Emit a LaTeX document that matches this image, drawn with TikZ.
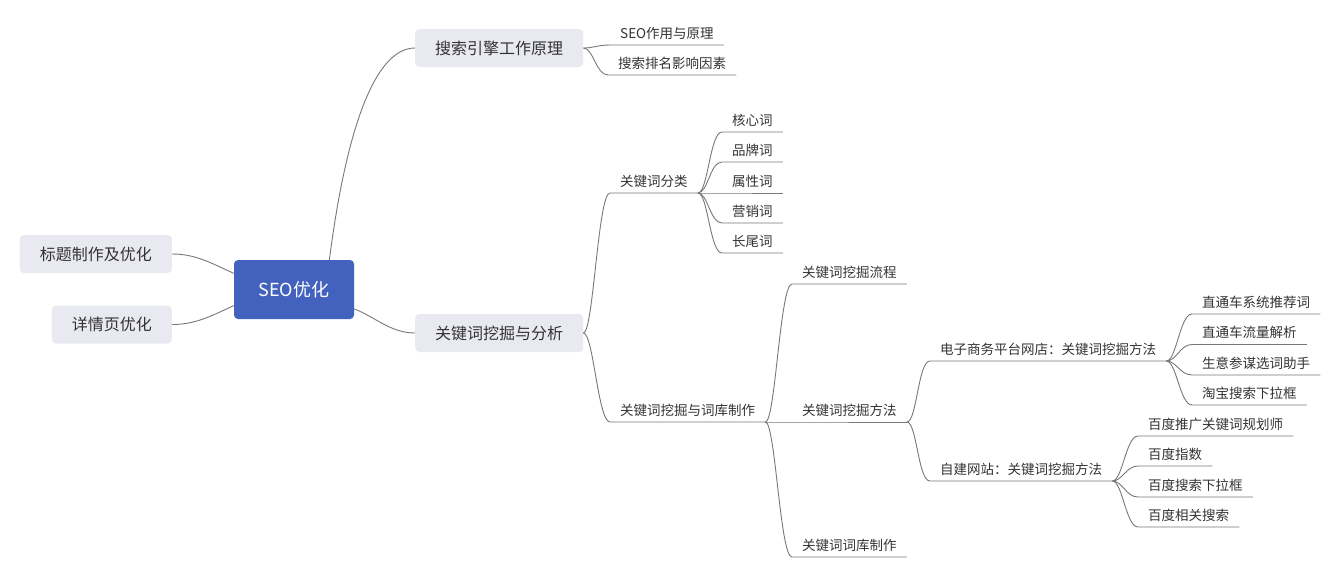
\documentclass[tikz,border=0pt]{standalone}
\usepackage{fontspec}
\setmainfont{Noto Sans CJK SC}
\definecolor{seoblue}{RGB}{67,98,190}
\definecolor{topicgray}{RGB}{233,234,241}
\definecolor{linkgray}{RGB}{120,120,120}
\definecolor{ink}{RGB}{51,51,51}

\begin{document}
\begin{tikzpicture}[
  x=1pt, y=-1pt,
  central/.style={fill=seoblue, rounded corners=4pt, text=white, minimum width=120pt, minimum height=59pt, font=\fontsize{18}{20}\selectfont},
  topic/.style={fill=topicgray, rounded corners=4pt, text=ink, inner xsep=20pt, minimum height=38pt, font=\fontsize{16}{18}\selectfont},
  leaf/.style={anchor=south west, text=ink, inner xsep=10pt, inner ysep=4pt, text height=10.5pt, text depth=2.5pt, font=\fontsize{13.5}{15}\selectfont},
  link/.style={draw=linkgray, line width=0.9pt},
  branch/.style={to path={.. controls +(10,0) and +(-12,0) .. (\tikztotarget)}},
]
\useasboundingbox (0,0) rectangle (1341,579);
% centre and the four topics round it
\node[central] (seo) at (294,289.5) {SEO优化};
\node[topic, anchor=east] (title) at (172,254) {标题制作及优化};
\node[topic, anchor=east] (detail) at (172,324.5) {详情页优化};
\node[topic, anchor=west] (engine) at (415,48) {搜索引擎工作原理};
\node[topic, anchor=west] (analysis) at (415,333) {关键词挖掘与分析};
% search engine
\node[leaf] (role) at (610,45) {SEO作用与原理};
\node[leaf] (rank) at (608,75) {搜索排名影响因素};
% keyword classes
\node[leaf] (kind) at (610,193) {关键词分类};
\node[leaf] (core) at (722,132) {核心词};
\node[leaf] (brand) at (722,162) {品牌词};
\node[leaf] (attr) at (722,193) {属性词};
\node[leaf] (promo) at (722,223) {营销词};
\node[leaf] (tail) at (722,253) {长尾词};
% keyword mining
\node[leaf] (mining) at (610,422) {关键词挖掘与词库制作};
\node[leaf] (flow) at (792,284) {关键词挖掘流程};
\node[leaf] (method) at (792,422) {关键词挖掘方法};
\node[leaf] (wordlib) at (792,557) {关键词词库制作};
\node[leaf] (shop) at (930,361) {电子商务平台网店：关键词挖掘方法};
\node[leaf] (site) at (930,481) {自建网站：关键词挖掘方法};
\node[leaf] (ztcword) at (1192,314) {直通车系统推荐词};
\node[leaf] (ztcflow) at (1192,344.5) {直通车流量解析};
\node[leaf] (sycm) at (1192,375) {生意参谋选词助手};
\node[leaf] (taobao) at (1192,405) {淘宝搜索下拉框};
\node[leaf] (bdplan) at (1138,436) {百度推广关键词规划师};
\node[leaf] (bdindex) at (1138,466) {百度指数};
\node[leaf] (bddrop) at (1138,497) {百度搜索下拉框};
\node[leaf] (bdrel) at (1138,527) {百度相关搜索};
% centre -> topics
\draw[link] (seo.165) .. controls +(-24,-11) and +(23,0) .. (title.east);
\draw[link] (seo.195) .. controls +(-24,11) and +(23,0) .. (detail.east);
\draw[link] (seo.40) .. controls +(14,-110) and +(-45,0) .. (engine.west);
\draw[link] (seo.-18) .. controls +(20,7) and +(-25,0) .. (analysis.west);
% topics -> leaves, each line runs on under its text
\draw[link] (engine.east) to[branch] (role.south west) -- (role.south east);
\draw[link] (engine.east) to[branch] (rank.south west) -- (rank.south east);
\draw[link] (analysis.east) to[branch] (kind.south west) -- (kind.south east);
\draw[link] (analysis.east) to[branch] (mining.south west) -- (mining.south east);
\draw[link] (kind.south east) to[branch] (core.south west) -- (core.south east);
\draw[link] (kind.south east) to[branch] (brand.south west) -- (brand.south east);
\draw[link] (kind.south east) to[branch] (attr.south west) -- (attr.south east);
\draw[link] (kind.south east) to[branch] (promo.south west) -- (promo.south east);
\draw[link] (kind.south east) to[branch] (tail.south west) -- (tail.south east);
\draw[link] (mining.south east) to[branch] (flow.south west) -- (flow.south east);
\draw[link] (mining.south east) to[branch] (method.south west) -- (method.south east);
\draw[link] (mining.south east) to[branch] (wordlib.south west) -- (wordlib.south east);
\draw[link] (method.south east) to[branch] (shop.south west) -- (shop.south east);
\draw[link] (method.south east) to[branch] (site.south west) -- (site.south east);
\draw[link] (shop.south east) to[branch] (ztcword.south west) -- (ztcword.south east);
\draw[link] (shop.south east) to[branch] (ztcflow.south west) -- (ztcflow.south east);
\draw[link] (shop.south east) to[branch] (sycm.south west) -- (sycm.south east);
\draw[link] (shop.south east) to[branch] (taobao.south west) -- (taobao.south east);
\draw[link] (site.south east) to[branch] (bdplan.south west) -- (bdplan.south east);
\draw[link] (site.south east) to[branch] (bdindex.south west) -- (bdindex.south east);
\draw[link] (site.south east) to[branch] (bddrop.south west) -- (bddrop.south east);
\draw[link] (site.south east) to[branch] (bdrel.south west) -- (bdrel.south east);
\end{tikzpicture}
\end{document}
